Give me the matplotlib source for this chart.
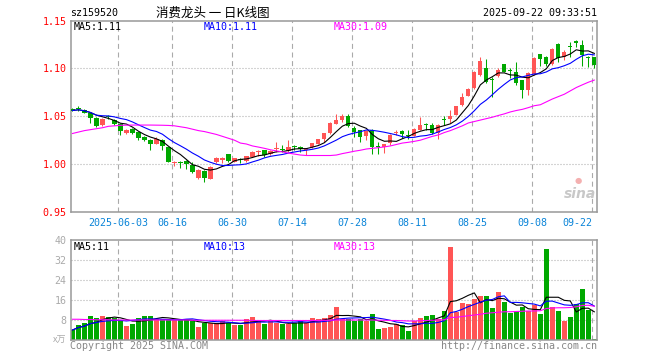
import matplotlib
matplotlib.use('Agg')
import matplotlib.pyplot as plt
import numpy as np
import pandas as pd

plt.rcParams['lines.scale_dashes'] = False

# ---------------- data ----------------
opens = [1.057, 1.058, 1.057, 1.0535, 1.048, 1.0406, 1.0495, 1.0465, 1.0424, 1.032,
         1.037, 1.0337, 1.0285, 1.025, 1.0215, 1.025, 1.0174, 1.0014, 1.0016, 1.003,
         0.999, 0.985, 0.993, 0.9844, 1.002, 1.0048, 1.0104, 1.0024, 1.0055, 1.0035,
         1.0076, 1.0122, 1.0146, 1.0104, 1.0158, 1.0163, 1.0139, 1.0176, 1.0174, 1.0146,
         1.0174, 1.0215, 1.0267, 1.032, 1.0424, 1.0458, 1.0503, 1.0382, 1.0354, 1.0295,
         1.036, 1.0176, 1.0174, 1.0222, 1.0323, 1.0347, 1.0298, 1.0295, 1.0358, 1.0412,
         1.041, 1.0323, 1.0465, 1.0469, 1.0514, 1.0618, 1.0715, 1.079, 1.093, 1.1007,
         1.0882, 1.092, 1.1049, 1.0975, 1.0958, 1.0878, 1.0774, 1.0938, 1.115, 1.112,
         1.105, 1.1253, 1.112, 1.1227, 1.1272, 1.1245, 1.1115, 1.1115]
highs = [1.059, 1.061, 1.058, 1.054, 1.049, 1.048, 1.051, 1.0475, 1.043, 1.037,
         1.038, 1.034, 1.029, 1.026, 1.028, 1.026, 1.018, 1.0035, 1.0035, 1.004,
         1.0025, 0.995, 0.994, 0.998, 1.0075, 1.0075, 1.011, 1.0065, 1.006, 1.009,
         1.0135, 1.015, 1.015, 1.0145, 1.0226, 1.0198, 1.025, 1.0198, 1.0188, 1.017,
         1.0225, 1.0265, 1.033, 1.044, 1.0528, 1.0528, 1.052, 1.0396, 1.036, 1.036,
         1.037, 1.0233, 1.021, 1.031, 1.0354, 1.0358, 1.0358, 1.038, 1.049, 1.0434,
         1.0434, 1.0415, 1.050, 1.0566, 1.061, 1.0746, 1.079, 1.097, 1.112, 1.1094,
         1.0913, 1.100, 1.105, 1.100, 1.1066, 1.088, 1.0965, 1.112, 1.1155, 1.1125,
         1.121, 1.126, 1.119, 1.1278, 1.1295, 1.1295, 1.113, 1.112]
lows = [1.055, 1.055, 1.053, 1.043, 1.039, 1.040, 1.047, 1.041, 1.030, 1.031,
        1.031, 1.025, 1.024, 1.0146, 1.021, 1.0146, 1.002, 0.998, 0.9955, 0.995,
        0.991, 0.984, 0.9816, 0.984, 1.001, 1.001, 1.002, 1.002, 1.001, 1.002,
        1.007, 1.008, 1.0076, 1.0095, 1.013, 1.0128, 1.0125, 1.0146, 1.0128, 1.010,
        1.017, 1.0212, 1.023, 1.0316, 1.042, 1.044, 1.039, 1.028, 1.0233, 1.025,
        1.011, 1.011, 1.012, 1.020, 1.030, 1.027, 1.026, 1.029, 1.0355, 1.0358,
        1.031, 1.026, 1.041, 1.0434, 1.051, 1.061, 1.071, 1.078, 1.092, 1.0844,
        1.0705, 1.0915, 1.096, 1.0896, 1.0826, 1.0694, 1.0722, 1.093, 1.1024, 1.1024,
        1.104, 1.107, 1.1087, 1.112, 1.122, 1.1024, 1.101, 1.100]
closes = [1.056, 1.0575, 1.0535, 1.0486, 1.040, 1.0476, 1.049, 1.0424, 1.0347, 1.0354,
          1.032, 1.0274, 1.025, 1.0215, 1.026, 1.0188, 1.0024, 1.0016, 1.0013, 1.000,
          0.992, 0.9938, 0.986, 0.9972, 1.006, 1.0052, 1.003, 1.006, 1.0045, 1.0083,
          1.0128, 1.0126, 1.0094, 1.0135, 1.0161, 1.0146, 1.0174, 1.0174, 1.0153, 1.0163,
          1.0222, 1.026, 1.032, 1.0434, 1.0465, 1.0503, 1.0396, 1.0337, 1.0285, 1.0347,
          1.018, 1.0174, 1.0208, 1.030, 1.0326, 1.0318, 1.0292, 1.0372, 1.041, 1.0408,
          1.0323, 1.041, 1.046, 1.0503, 1.0608, 1.0705, 1.0785, 1.0965, 1.1076, 1.0861,
          1.0878, 1.0983, 1.0965, 1.097, 1.0851, 1.0774, 1.0948, 1.111, 1.1097, 1.105,
          1.1205, 1.1104, 1.1167, 1.1225, 1.127, 1.1139, 1.1113, 1.1035]
ma30_price = [1.032, 1.0335, 1.035, 1.036, 1.037, 1.038, 1.0395, 1.040, 1.0405, 1.0407,
              1.0408, 1.0408, 1.0408, 1.0408, 1.0407, 1.0406, 1.0404, 1.040, 1.039, 1.038,
              1.0365, 1.035, 1.034, 1.0325, 1.031, 1.029, 1.027, 1.025, 1.022, 1.021,
              1.019, 1.0178, 1.0165, 1.015, 1.0138, 1.0128, 1.0115, 1.0105, 1.0095, 1.009,
              1.009, 1.009, 1.009, 1.009, 1.0095, 1.011, 1.0122, 1.0135, 1.0145, 1.0158,
              1.0165, 1.0172, 1.018, 1.019, 1.0205, 1.022, 1.0228, 1.0238, 1.025, 1.027,
              1.029, 1.0305, 1.033, 1.035, 1.0375, 1.040, 1.043, 1.0445, 1.046, 1.0475,
              1.049, 1.0508, 1.0525, 1.0545, 1.056, 1.0572, 1.059, 1.061, 1.062, 1.065,
              1.068, 1.0705, 1.073, 1.0765, 1.080, 1.0828, 1.0855, 1.0878]
volumes = [4.0, 6.0, 6.7, 9.6, 8.8, 9.6, 9.1, 8.8, 8.0, 5.6,
           6.4, 8.8, 9.6, 9.6, 8.5, 8.5, 8.0, 8.0, 8.0, 8.0,
           7.5, 5.1, 6.7, 6.7, 6.7, 7.7, 6.7, 5.9, 5.9, 8.5,
           9.1, 8.0, 6.4, 7.5, 6.7, 6.4, 6.4, 6.9, 7.6, 6.9,
           8.8, 8.3, 8.8, 10.0, 13.3, 8.5, 8.5, 7.5, 8.5, 7.5,
           10.4, 4.4, 4.9, 5.3, 6.4, 6.0, 3.7, 7.5, 8.8, 9.6,
           10.0, 8.3, 11.6, 37.3, 11.3, 14.9, 14.3, 16.4, 17.6, 17.6,
           12.8, 19.2, 15.2, 10.9, 11.6, 13.2, 11.6, 13.9, 10.4, 36.4,
           13.2, 11.6, 7.7, 9.2, 14.4, 20.4, 12.0, 0.4]
ma30_vol = [8.3, 8.3, 8.2, 8.2, 8.1, 8.1, 8.1, 8.0, 8.0, 8.0,
            8.0, 8.0, 8.0, 8.0, 8.0, 8.0, 8.0, 8.0, 8.0, 8.0,
            7.9, 7.9, 7.9, 7.9, 7.9, 7.9, 7.9, 7.9, 7.9, 7.9,
            7.8, 7.8, 7.8, 7.8, 7.8, 7.8, 7.8, 7.8, 7.8, 7.8,
            7.8, 7.8, 7.9, 7.9, 8.0, 8.0, 8.0, 8.0, 8.0, 8.0,
            8.0, 7.9, 7.9, 7.8, 7.8, 7.7, 7.6, 7.6, 7.7, 7.8,
            7.9, 8.0, 8.1, 9.0, 9.1, 9.4, 9.7, 10.0, 10.3, 10.7,
            10.9, 11.1, 11.3, 11.3, 11.4, 11.5, 11.6, 11.6, 11.7, 12.6,
            12.8, 12.9, 12.9, 13.0, 13.3, 13.8, 13.9, 13.5]
tick_index = [8, 17, 27, 37, 47, 57, 67, 77, 87]
tick_labels = ['2025-06-03', '06-16', '06-30', '07-14', '07-28', '08-11', '08-25', '09-08', '09-22']
price_ticks = [0.95, 1.00, 1.05, 1.10, 1.15]
vol_ticks = [8, 16, 24, 32, 40]

# ---------------- style ----------------
RED = '#ff5555'
GREEN = '#00a800'
GRID = '#aaaaaa'
SPINE = '#999999'
MONO = 'DejaVu Sans Mono'
FS = 7.2

W, H = 660, 360
fig = plt.figure(figsize=(6.6, 3.6), dpi=100)
fig.patch.set_facecolor('white')


def rect(l, t, r, b):
    return [l / W, 1 - b / H, (r - l) / W, (b - t) / H]


def fx(x):
    return x / W


def fy(y):
    return 1 - y / H


ax = fig.add_axes(rect(70.5, 20.5, 597, 212))
axv = fig.add_axes(rect(70.5, 240, 597, 340))

o = np.array(opens); h = np.array(highs); l = np.array(lows); c = np.array(closes)
v = np.array(volumes)
n = len(c)
idx = np.arange(n)
up = c >= o
colors = np.where(up, RED, GREEN)

ma5 = pd.Series(c).rolling(5, min_periods=1).mean()
ma10 = pd.Series(c).rolling(10, min_periods=1).mean()
vma5 = pd.Series(v).rolling(5, min_periods=1).mean()
vma10 = pd.Series(v).rolling(10, min_periods=1).mean()

xl = (-0.33, 87.45)
tick_x = np.array(tick_index) - 0.33

for a in (ax, axv):
    a.set_xlim(*xl)
    for s in a.spines.values():
        s.set_color(SPINE)
        s.set_linewidth(1.1)
    for tx in tick_x:
        a.axvline(tx, color=GRID, lw=0.8, dashes=(3.6, 2.6), zorder=0)

# main panel grid
for yv in [1.00, 1.05, 1.10]:
    ax.axhline(yv, color=GRID, lw=0.8, dashes=(0.72, 1.44), zorder=0)
for yv in [8, 16, 24, 32]:
    axv.axhline(yv, color=GRID, lw=0.8, dashes=(0.72, 1.44), zorder=0)

# candles
ax.vlines(idx, l, h, colors=colors, lw=0.75, zorder=2)
body_bottom = np.minimum(o, c)
body_h = np.maximum(np.abs(c - o), 0.0011)
ax.bar(idx, body_h, bottom=body_bottom, width=0.7, color=colors, linewidth=0, zorder=3)

ax.plot(idx, ma5, color='black', lw=0.8, zorder=4)
ax.plot(idx, ma10, color='#0000ff', lw=0.8, zorder=4)
ax.plot(idx, ma30_price, color='#ff00ff', lw=0.8, zorder=4)
ax.set_ylim(0.95, 1.15)

ax.set_yticks(price_ticks)
ax.set_yticklabels(['%.2f' % t for t in price_ticks], color='#ff0000', fontfamily=MONO, fontsize=FS)
ax.tick_params(axis='y', length=0, pad=3)
ax.set_xticks(tick_x)
ax.set_xticklabels(tick_labels, color='#0a84d8', fontfamily=MONO, fontsize=FS)
ax.tick_params(axis='x', length=0, pad=4)
ax.get_xticklabels()[-1].set_horizontalalignment('right')

# volume panel
axv.bar(idx, v, width=0.83, color=colors, linewidth=0, zorder=2)
axv.plot(idx, vma5, color='black', lw=0.8, zorder=4)
axv.plot(idx, vma10, color='#0000ff', lw=0.8, zorder=4)
axv.plot(idx, ma30_vol, color='#ff00ff', lw=0.8, zorder=4)
axv.set_ylim(0, 40)
axv.set_yticks(vol_ticks)
axv.set_yticklabels([str(t) for t in vol_ticks], color='#aaaaaa', fontfamily=MONO, fontsize=FS)
axv.tick_params(axis='y', length=0, pad=3)
axv.set_xticks([])

# texts
fig.text(fx(70), fy(13), 'sz159520', fontfamily=MONO, fontsize=FS, color='black', va='center', ha='left')
fig.text(fx(213), fy(13), '消费龙头 一 日K线图', family=['Noto Sans CJK SC', 'DejaVu Sans'],
         fontsize=9, color='black', va='center', ha='center')
fig.text(fx(597), fy(13), '2025-09-22 09:33:51', fontfamily=MONO, fontsize=FS, color='black', va='center', ha='right')

fig.text(fx(74), fy(27), 'MA5:1.11', fontfamily=MONO, fontsize=FS, color='black', va='center')
fig.text(fx(204), fy(27), 'MA10:1.11', fontfamily=MONO, fontsize=FS, color='#0000ff', va='center')
fig.text(fx(334), fy(27), 'MA30:1.09', fontfamily=MONO, fontsize=FS, color='#ff00ff', va='center')

fig.text(fx(74), fy(246.5), 'MA5:11', fontfamily=MONO, fontsize=FS, color='black', va='center')
fig.text(fx(204), fy(246.5), 'MA10:13', fontfamily=MONO, fontsize=FS, color='#0000ff', va='center')
fig.text(fx(334), fy(246.5), 'MA30:13', fontfamily=MONO, fontsize=FS, color='#ff00ff', va='center')

fig.text(fx(66), fy(340), 'x万', family=['Noto Sans CJK SC', 'DejaVu Sans'], fontsize=6.5,
         color='#aaaaaa', va='center', ha='right')
fig.text(fx(70), fy(346), 'Copyright 2025 SINA.COM', fontfamily=MONO, fontsize=FS, color='#888888',
         va='center', ha='left')
fig.text(fx(597), fy(346), 'http://finance.sina.com.cn', fontfamily=MONO, fontsize=FS, color='#888888',
         va='center', ha='right')

# sina watermark
fig.text(fx(596), fy(194), 'sina', fontfamily='DejaVu Sans', fontsize=10, fontstyle='italic',
         fontweight='bold', color='#c8c8c8', va='center', ha='right')
fig.text(fx(578), fy(180), '●', fontfamily='DejaVu Sans', fontsize=6, color='#f4b0b0',
         va='center', ha='center')

fig.savefig('out.png', dpi=100)
